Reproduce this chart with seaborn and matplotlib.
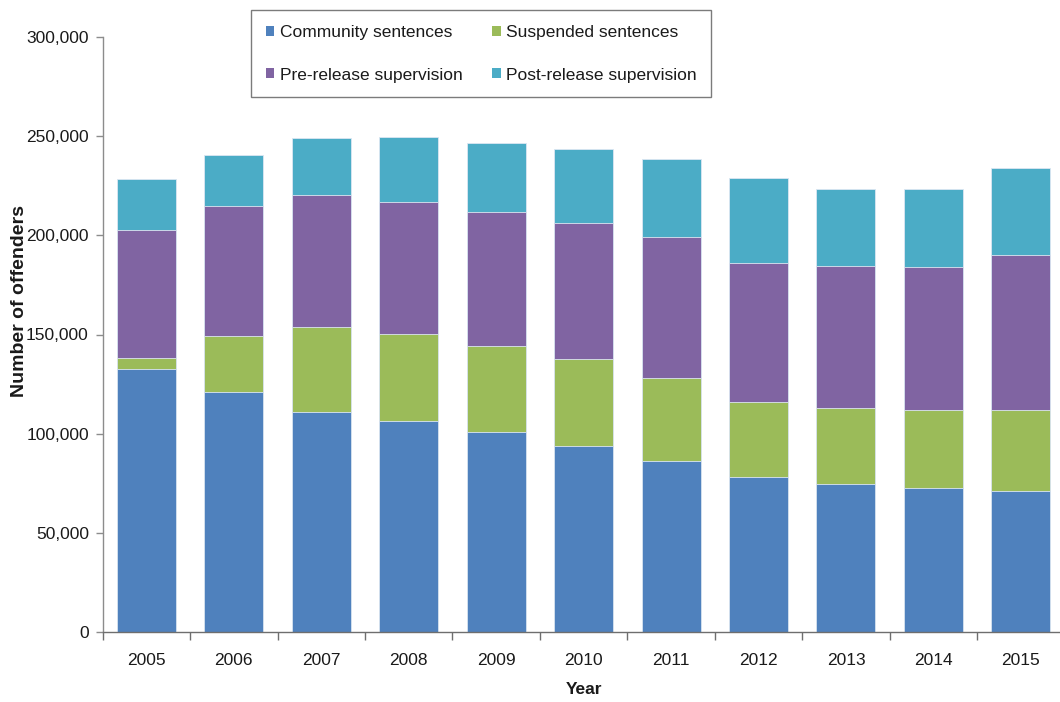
import numpy as np
import pandas as pd
import matplotlib
matplotlib.use("Agg")
import matplotlib.pyplot as plt
import seaborn as sns
from matplotlib.ticker import FuncFormatter, FixedLocator
from matplotlib.patches import Patch

years = ["2005", "2006", "2007", "2008", "2009", "2010", "2011", "2012", "2013", "2014", "2015"]
community = [132400, 121000, 111100, 106400, 100800, 94000, 86400, 78000, 74600, 72800, 71300]
suspended = [5600, 28300, 42900, 44000, 43300, 43500, 41700, 38100, 38400, 39100, 40600]
pre_release = [64900, 65400, 66200, 66600, 67700, 68600, 70900, 70100, 71400, 72000, 78100]
post_release = [25400, 25800, 28900, 32600, 35000, 37300, 39700, 42600, 39200, 39700, 44000]

series_names = ["Community sentences", "Suspended sentences", "Pre-release supervision", "Post-release supervision"]
series_values = [community, suspended, pre_release, post_release]
colors = ["#4F81BD", "#9BBB59", "#8064A2", "#4BACC6"]

sns.set_theme(style="white")
plt.rcParams["font.family"] = ["Liberation Sans", "DejaVu Sans"]

fig = plt.figure(figsize=(10.6, 7.02), dpi=100)
ax = fig.add_axes([102.7 / 1060, 1 - 632 / 702, (1064.6 - 102.7) / 1060, (632 - 37) / 702])

cum = np.cumsum(np.array(series_values, dtype=float), axis=0)
# draw from the top layer down so lower layers cover upper cumulative bars
for i in range(len(series_names) - 1, -1, -1):
    df = pd.DataFrame({"Year": years, "value": cum[i]})
    sns.barplot(data=df, x="Year", y="value", color=colors[i], saturation=1,
                width=0.675, ax=ax, edgecolor="#dce6f2", linewidth=0.6, errorbar=None)

ax.set_xlim(-0.5, 10.5)
ax.set_ylim(0, 300000)
ax.set_yticks(np.arange(0, 300001, 50000))
ax.yaxis.set_major_formatter(FuncFormatter(lambda v, p: f"{int(v):,}"))

for s in ["top", "right"]:
    ax.spines[s].set_visible(False)
ax.spines["left"].set_color("#8c8c8c")
ax.spines["bottom"].set_color("#6e6e6e")
ax.spines["left"].set_linewidth(1.0)
ax.spines["bottom"].set_linewidth(1.0)

ax.tick_params(axis="y", which="major", direction="out", length=5, width=1, color="#8c8c8c",
               labelsize=12.5, labelcolor="#1a1a1a", pad=5, left=True)
ax.tick_params(axis="x", which="major", length=0, labelsize=12.5, labelcolor="#1a1a1a", pad=15)
ax.xaxis.set_minor_locator(FixedLocator(np.arange(-0.5, 11.0, 1.0)))
ax.tick_params(axis="x", which="minor", direction="out", length=6, width=1, color="#6e6e6e", bottom=True)

ax.set_xlabel("Year", fontsize=12.5, fontweight="bold", color="#1a1a1a", labelpad=10)
ax.set_ylabel("Number of offenders", fontsize=14, fontweight="bold", color="#1a1a1a")
ax.yaxis.set_label_coords(-0.0776, 0.556)
ax.grid(False)

order = [0, 2, 1, 3]
handles = [Patch(facecolor=colors[i], edgecolor="none") for i in order]
labels = [series_names[i] for i in order]
leg = fig.legend(handles, labels, loc="upper left", bbox_to_anchor=(251 / 1060, 1 - 10 / 702),
                 ncol=2, fontsize=12.5, frameon=True, fancybox=False, edgecolor="#5a5a5a",
                 handlelength=0.5, handleheight=0.5, handletextpad=0.3, columnspacing=1.7,
                 labelspacing=1.6, borderpad=0.85, borderaxespad=0)
leg.get_frame().set_linewidth(1.0)
for t in leg.get_texts():
    t.set_color("#1a1a1a")

fig.savefig("out.png", dpi=100)
